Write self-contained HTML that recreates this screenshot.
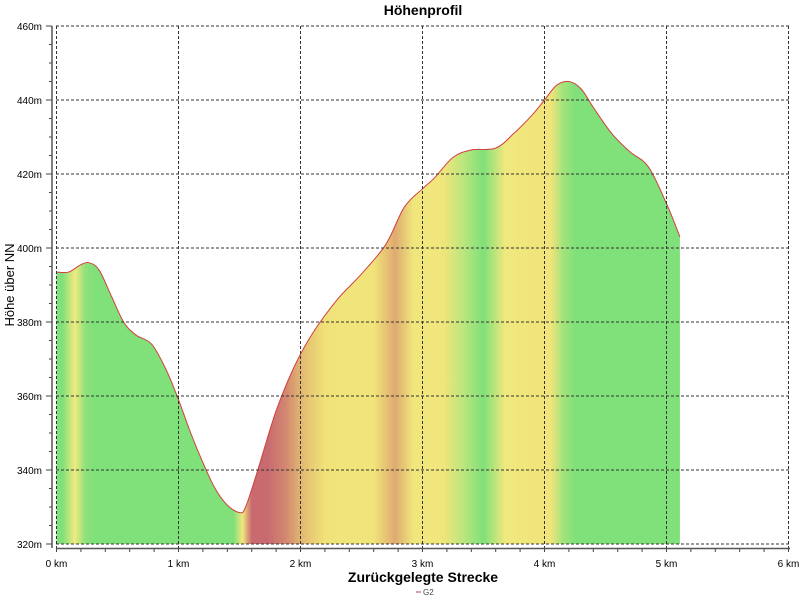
<!DOCTYPE html>
<html><head><meta charset="utf-8"><style>
body{margin:0;background:#fff;width:800px;height:600px;overflow:hidden}
svg{display:block;font-family:"Liberation Sans",sans-serif}
</style></head><body>
<svg id="chart" width="800" height="600">
<defs><linearGradient id="slopeGrad" gradientUnits="userSpaceOnUse" x1="56" y1="0" x2="790" y2="0"></linearGradient></defs>
<text x="423" y="15" text-anchor="middle" font-weight="bold" font-size="14">Höhenprofil</text>
<text transform="translate(14,285) rotate(-90)" text-anchor="middle" font-size="13">Höhe über NN</text>
<text x="423" y="582" text-anchor="middle" font-weight="bold" font-size="14">Zurückgelegte Strecke</text>
<g><line x1="416" y1="592" x2="421" y2="592" stroke="#c04040"/><text x="423" y="595" font-size="8" fill="#444">G2</text></g>
<g id="grid"></g><g id="area"></g><g id="axes"></g>
</svg>
<script>
const distKm=[0,0.1,0.2,0.27,0.35,0.45,0.55,0.65,0.78,0.9,1.0,1.1,1.2,1.3,1.4,1.5,1.55,1.65,1.8,1.95,2.1,2.3,2.5,2.7,2.85,3.0,3.1,3.25,3.4,3.6,3.75,3.9,4.0,4.1,4.2,4.3,4.4,4.55,4.7,4.85,5.0,5.11];
const heightM=[393.5,393.5,395.5,396,394,387,380,376.5,374,367,359,350,342,335,330.5,328.5,330,340,356,368,377,386,393,401,411,416,419,424.5,426.5,427,431,436,440,444,445,443,438,431,426,422,412,403];
const xTicks=[0,1,2,3,4,5,6];
const xTickLabels=["0 km","1 km","2 km","3 km","4 km","5 km","6 km"];
const yTicks=[320,340,360,380,400,420,440,460];
const yTickLabels=["320m","340m","360m","380m","400m","420m","440m","460m"];
const NS="http://www.w3.org/2000/svg";
const X=k=>56.5+k*122,Y=m=>26+(460-m)*3.7;
function mk(tag,attrs,parent){const e=document.createElementNS(NS,tag);for(const k in attrs)e.setAttribute(k,attrs[k]);parent.appendChild(e);return e;}
const grid=document.getElementById('grid'),axes=document.getElementById('axes'),area=document.getElementById('area');
xTicks.forEach((t,i)=>{const l=mk('line',{x1:X(t),x2:X(t),y1:26,y2:548,stroke:'#333','stroke-dasharray':'3,2','stroke-width':1},grid);


const tx=mk('text',{x:X(t),y:567,'text-anchor':'middle','font-size':10},axes);tx.textContent=xTickLabels[i];

});
for(let k=0;k<=6.001;k+=0.2){mk('line',{x1:X(k),x2:X(k),y1:549,y2:552,stroke:'#444'},axes);}
yTicks.forEach((t,i)=>{const l=mk('line',{x1:56,x2:790,y1:Y(t),y2:Y(t),stroke:'#333','stroke-dasharray':'3,2'},grid);


const tx=mk('text',{x:42,y:Y(t)+4,'text-anchor':'end','font-size':10},axes);tx.textContent=yTickLabels[i];


mk('line',{x1:46,x2:52,y1:Y(t),y2:Y(t),stroke:'#444'},axes);});
for(let m=320;m<=460;m+=5){mk('line',{x1:49,x2:52,y1:Y(m),y2:Y(m),stroke:'#444'},axes);}
mk('line',{x1:52,x2:52,y1:26,y2:548,stroke:'#555','stroke-width':1.5},axes);
mk('line',{x1:56,x2:790,y1:548.5,y2:548.5,stroke:'#555','stroke-width':1.5},axes);
const cols=[[0.5,[128,224,122]],[2,[240,234,128]],[4.5,[240,226,120]],[6.5,[224,176,112]],[9,[200,106,112]]];
function col(g){if(g<=cols[0][0])return cols[0][1];for(let i=1;i<cols.length;i++){if(g<=cols[i][0]){const a=cols[i-1],b=cols[i],f=(g-a[0])/(b[0]-a[0]);return a[1].map((v,j)=>Math.round(v+(b[1][j]-v)*f));}}return cols[cols.length-1][1];}
const grad=document.getElementById('slopeGrad');
for(let i=0;i<distKm.length-1;i++){const g=(heightM[i+1]-heightM[i])/((distKm[i+1]-distKm[i])*10);const c=col(g);
const mid=(X((distKm[i]+distKm[i+1])/2)-56)/(790-56);mk('stop',{offset:mid,'stop-color':'rgb('+c.join(',')+')'},grad);}
const pts=distKm.map((k,i)=>[X(k),Y(heightM[i])]);
function smooth(p){let s='';for(let i=0;i<p.length-1;i++){const p0=p[i-1]||p[i],p1=p[i],p2=p[i+1],p3=p[i+2]||p2;
const c1=[p1[0]+(p2[0]-p0[0])/6,p1[1]+(p2[1]-p0[1])/6],c2=[p2[0]-(p3[0]-p1[0])/6,p2[1]-(p3[1]-p1[1])/6];
s+=' C'+c1[0]+','+c1[1]+' '+c2[0]+','+c2[1]+' '+p2[0]+','+p2[1];}return s;}
const curve=smooth(pts);
const d='M'+X(0)+','+Y(320)+' L'+pts[0][0]+','+pts[0][1]+curve+' L'+X(distKm[distKm.length-1])+','+Y(320)+' Z';
const a=mk('path',{d:d,fill:'url(#slopeGrad)'},area);


const ln=mk('path',{d:'M'+pts[0][0]+','+pts[0][1]+curve,fill:'none',stroke:'#d04040','stroke-width':1},area);


area.parentNode.insertBefore(area,grid);
</script>
</body></html>
